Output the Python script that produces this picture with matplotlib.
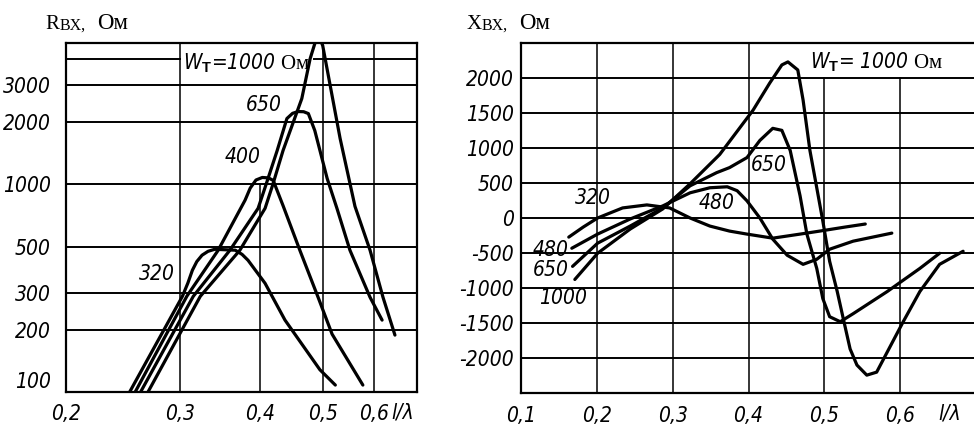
import numpy as np
import matplotlib.pyplot as plt
from matplotlib import font_manager as fm
from matplotlib.ticker import FixedLocator, FixedFormatter, NullLocator

plt.rcParams['axes.unicode_minus'] = False
plt.rcParams['mathtext.fontset'] = 'custom'
plt.rcParams['mathtext.rm'] = 'Liberation Serif'
plt.rcParams['mathtext.it'] = 'Liberation Serif:italic'
plt.rcParams['mathtext.bf'] = 'Liberation Sans:bold'

SERIF = ['Liberation Serif', 'DejaVu Serif']

# ---- left chart: R_in vs l/lambda (log-log) ----
rx_320 = [0.251, 0.303, 0.309, 0.314, 0.319, 0.325, 0.332, 0.340, 0.366, 0.375, 0.383, 0.407, 0.437, 0.495, 0.523]
ry_320 = [100, 289, 335, 386, 425, 456, 476, 487, 482, 460, 431, 334, 222, 128, 108]

rx_400 = [0.256, 0.308, 0.344, 0.379, 0.386, 0.394, 0.403, 0.412, 0.419, 0.434, 0.461, 0.492, 0.517, 0.577]
ry_400 = [100, 290, 480, 840, 960, 1050, 1080, 1075, 1045, 790, 480, 285, 190, 108]

rx_650 = [0.261, 0.315, 0.359, 0.397, 0.408, 0.425, 0.440, 0.449, 0.458, 0.467, 0.475, 0.486, 0.508, 0.526, 0.551, 0.592, 0.618]
ry_650 = [100, 289, 482, 767, 989, 1457, 2077, 2200, 2244, 2240, 2194, 1819, 1068, 767, 482, 286, 222]

rx_1000 = [0.268, 0.323, 0.372, 0.407, 0.418, 0.434, 0.464, 0.478, 0.486, 0.493, 0.500, 0.532, 0.561, 0.592, 0.620, 0.647]
ry_1000 = [100, 289, 482, 767, 989, 1457, 2590, 4030, 4764, 5200, 4660, 1665, 784, 482, 286, 188]

r_xticks = [0.2, 0.3, 0.4, 0.5, 0.6]
r_xlabels = ['0,2', '0,3', '0,4', '0,5', '0,6']
r_yticks = [100, 200, 300, 500, 1000, 2000, 3000]
r_ylabels = ['100', '200', '300', '500', '1000', '2000', '3000']
r_hgrid = [200, 300, 500, 1000, 2000, 3000, 4000]

# ---- right chart: X_in vs l/lambda ----
xx_320 = [0.163, 0.182, 0.201, 0.234, 0.266, 0.296, 0.323, 0.349, 0.375, 0.398, 0.432, 0.468, 0.494, 0.527, 0.554]
xy_320 = [-273, -130, 0, 144, 187, 144, 0, -115, -187, -230, -288, -230, -187, -130, -86]

xx_480 = [0.167, 0.201, 0.244, 0.287, 0.323, 0.349, 0.372, 0.385, 0.398, 0.415, 0.432, 0.451, 0.472, 0.490, 0.507, 0.538, 0.589]
xy_480 = [-432, -230, -14, 173, 360, 432, 446, 390, 245, 0, -302, -532, -662, -590, -446, -331, -216]

xx_650 = [0.168, 0.201, 0.244, 0.287, 0.323, 0.358, 0.375, 0.398, 0.415, 0.432, 0.444, 0.455, 0.468, 0.477,
          0.490, 0.498, 0.507, 0.521, 0.538, 0.583, 0.626, 0.652]
xy_650 = [-691, -360, -115, 144, 460, 648, 720, 863, 1108, 1281, 1252, 964, 317, -230,
          -720, -1151, -1410, -1482, -1367, -1050, -720, -504]

xx_1000 = [0.171, 0.201, 0.244, 0.287, 0.323, 0.362, 0.406, 0.428, 0.444, 0.452, 0.465, 0.472, 0.481, 0.490,
           0.498, 0.507, 0.517, 0.525, 0.534, 0.543, 0.556, 0.569, 0.583, 0.604, 0.626, 0.652, 0.683]
xy_1000 = [-878, -504, -158, 130, 489, 907, 1540, 1928, 2187, 2230, 2115, 1684, 964, 432,
           -43, -619, -1050, -1439, -1871, -2101, -2245, -2202, -1914, -1482, -1050, -662, -475]

x_xticks = [0.1, 0.2, 0.3, 0.4, 0.5, 0.6]
x_xlabels = ['0,1', '0,2', '0,3', '0,4', '0,5', '0,6']
x_yticks = [-2000, -1500, -1000, -500, 0, 500, 1000, 1500, 2000]
x_ylabels = ['-2000', '-1500', '-1000', '-500', '0', '500', '1000', '1500', '2000']


# narrow italic font for the digits, if one is installed
def find_narrow():
    best, best_rank = None, 99
    for f in fm.fontManager.ttflist:
        n = (f.name + ' ' + f.fname).lower()
        if f.style not in ('italic', 'oblique') or 'mono' in n or 'serif' in n or 'bold' in n:
            continue
        if str(f.weight) not in ('400', 'normal', 'regular', 'book'):
            continue
        if 'liberation' in n and 'narrow' in n:
            rank = 0
        elif 'extracondensed' in n or 'extra-condensed' in f.stretch:
            rank = 5
        elif 'semicondensed' in n or 'semi-condensed' in f.stretch:
            rank = 4
        elif 'condensed' in n or f.stretch == 'condensed' or 'narrow' in n:
            rank = 1 if 'dejavu' in n else 2
        else:
            continue
        if rank < best_rank:
            best, best_rank = f.fname, rank
    return best


narrow_file = find_narrow()
DIG = 15 if narrow_file else 13


def dig_font(size=DIG):
    if narrow_file:
        return fm.FontProperties(fname=narrow_file, size=size)
    return fm.FontProperties(family='Liberation Sans', style='italic', size=size)


W, H = 974, 428
fig = plt.figure(figsize=(W / 100, H / 100), dpi=100)


def px_axes(x0, y0, x1, y1):
    return fig.add_axes([x0 / W, 1 - y1 / H, (x1 - x0) / W, (y1 - y0) / H])


def px_text(x, y, s, **kw):
    fig.text(x / W, 1 - y / H, s, va='baseline', **kw)


CLW = 2.3

# left
ax1 = px_axes(66, 43, 417, 392)
ax1.set_xscale('log')
ax1.set_yscale('log')
ax1.set_xlim(0.2, 0.7)
ax1.set_ylim(100, 4800)
for v in r_hgrid:
    ax1.plot([0.2, 0.7], [v, v], color='black', lw=1.4, zorder=1)
for v in r_xticks[1:]:
    top = 1000 if v == 0.4 else 4800
    ax1.plot([v, v], [100, top], color='black', lw=1.1, zorder=1)
for xs, ys in [(rx_320, ry_320), (rx_400, ry_400), (rx_650, ry_650), (rx_1000, ry_1000)]:
    ax1.plot(xs, ys, color='black', lw=CLW, solid_joinstyle='round', solid_capstyle='round', zorder=3)
ax1.xaxis.set_major_locator(FixedLocator(r_xticks))
ax1.xaxis.set_major_formatter(FixedFormatter(r_xlabels))
ax1.yaxis.set_major_locator(FixedLocator(r_yticks))
ax1.yaxis.set_major_formatter(FixedFormatter(r_ylabels))
ax1.xaxis.set_minor_locator(NullLocator())
ax1.yaxis.set_minor_locator(NullLocator())
ax1.tick_params(length=0, pad=9)
ax1.tick_params(axis='y', pad=11)
for lab in ax1.get_xticklabels() + ax1.get_yticklabels():
    lab.set_fontproperties(dig_font())
ax1.get_yticklabels()[0].set_verticalalignment('bottom')
ax1.text(0.666, -0.058, 'l/λ', transform=ax1.get_xaxis_transform(), ha='center', va='center',
         fontproperties=dig_font())
ax1.text(0.405, 2400, '650', ha='center', va='center', fontproperties=dig_font())
ax1.text(0.376, 1350, '400', ha='center', va='center', fontproperties=dig_font())
ax1.text(0.277, 369, '320', ha='center', va='center', fontproperties=dig_font())
ax1.text(0.304, 3860, r'W$_{\mathbf{T}}$=1000 $\mathrm{Ом}$', ha='left', va='center', zorder=2,
         bbox=dict(facecolor='white', edgecolor='none', pad=1.5), fontproperties=dig_font())
for s in ax1.spines.values():
    s.set_linewidth(1.6)

# right
ax2 = px_axes(521, 43, 976, 393)
ax2.set_xlim(0.1, 0.7)
ax2.set_ylim(-2500, 2500)
for v in x_yticks:
    ax2.plot([0.1, 0.7], [v, v], color='black', lw=1.4, zorder=1)
for v in x_xticks[1:]:
    top = 2000 if v >= 0.5 else 2500
    ax2.plot([v, v], [-2500, top], color='black', lw=1.1, zorder=1)
for xs, ys in [(xx_320, xy_320), (xx_480, xy_480), (xx_650, xy_650), (xx_1000, xy_1000)]:
    ax2.plot(xs, ys, color='black', lw=CLW, solid_joinstyle='round', solid_capstyle='round', zorder=3)
ax2.xaxis.set_major_locator(FixedLocator(x_xticks))
ax2.xaxis.set_major_formatter(FixedFormatter(x_xlabels))
ax2.yaxis.set_major_locator(FixedLocator(x_yticks))
ax2.yaxis.set_major_formatter(FixedFormatter(x_ylabels))
ax2.tick_params(length=0, pad=9)
ax2.tick_params(axis='y', pad=5)
for lab in ax2.get_xticklabels() + ax2.get_yticklabels():
    lab.set_fontproperties(dig_font())
ax2.text(0.666, -0.058, 'l/λ', transform=ax2.get_xaxis_transform(), ha='center', va='center',
         fontproperties=dig_font())
ax2.text(0.195, 286, '320', ha='center', va='center', fontproperties=dig_font())
ax2.text(0.358, 214, '480', ha='center', va='center', fontproperties=dig_font())
ax2.text(0.427, 757, '650', ha='center', va='center', fontproperties=dig_font())
ax2.text(0.139, -457, '480', ha='center', va='center', fontproperties=dig_font())
ax2.text(0.139, -743, '650', ha='center', va='center', fontproperties=dig_font())
ax2.text(0.155, -1143, '1000', ha='center', va='center', fontproperties=dig_font())
ax2.text(0.481, 2229, r'W$_{\mathbf{T}}$= 1000 $\mathrm{Ом}$', ha='left', va='center', zorder=2,
         fontproperties=dig_font())
for s in ax2.spines.values():
    s.set_linewidth(1.6)

# axis titles, built from pieces like the original lettering
for x0, letter in [(45, 'R'), (467, 'X')]:
    px_text(x0, 29, letter, family=SERIF, size=15)
    px_text(x0 + 15, 30, 'BX,', family=SERIF, size=11.5)
    px_text(x0 + 52, 29, 'Ом', family=SERIF, size=16.5)

fig.savefig('out.png', dpi=100)
